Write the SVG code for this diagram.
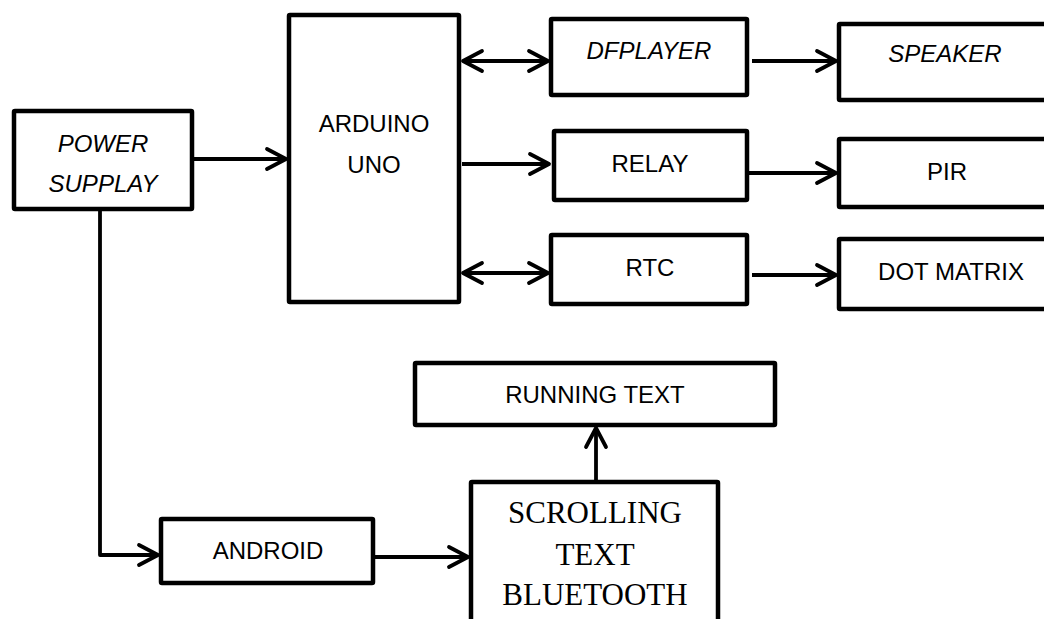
<svg xmlns="http://www.w3.org/2000/svg" width="1044" height="619" viewBox="0 0 1044 619">
  <style>
    .box { fill: #ffffff; stroke: #000000; stroke-width: 4.5; stroke-linejoin: round; }
    .lbl { font-family: "Liberation Sans", Arial, sans-serif; font-size: 24px; fill: #000000; text-anchor: middle; }
    .it { font-style: italic; }
    .serif { font-family: "Liberation Serif", "Times New Roman", serif; font-size: 31px; fill: #000000; text-anchor: middle; }
    .conn { fill: none; stroke: #000000; stroke-width: 3.8; stroke-linejoin: round; }
  </style>
  <defs>
    <marker id="arr" markerUnits="userSpaceOnUse" markerWidth="26" markerHeight="26" viewBox="0 0 26 26" refX="21" refY="13" orient="auto-start-reverse" overflow="visible">
      <path d="M2,3 L21,13 L2,23" fill="none" stroke="#000000" stroke-width="3.8" stroke-linecap="round" stroke-linejoin="round"/>
    </marker>
  </defs>

  <g id="connectors">
    <path class="conn" d="M192,159 H286" marker-end="url(#arr)"/>
    <path class="conn" d="M463,61 H548" marker-start="url(#arr)" marker-end="url(#arr)"/>
    <path class="conn" d="M462,164 H549" marker-end="url(#arr)"/>
    <path class="conn" d="M463,273 H548" marker-start="url(#arr)" marker-end="url(#arr)"/>
    <path class="conn" d="M752,61 H836" marker-end="url(#arr)"/>
    <path class="conn" d="M749,173 H836" marker-end="url(#arr)"/>
    <path class="conn" d="M752,275 H836" marker-end="url(#arr)"/>
    <path class="conn" d="M100,211 V555 H158" marker-end="url(#arr)"/>
    <path class="conn" d="M375,557 H468" marker-end="url(#arr)"/>
    <path class="conn" d="M596,482 V428" marker-end="url(#arr)"/>
  </g>

  <g id="power-supply">
    <rect class="box" x="14" y="111" width="178" height="98" rx="1"/>
    <text class="lbl it" x="103" y="152">POWER</text>
    <text class="lbl it" x="103" y="192">SUPPLAY</text>
  </g>

  <g id="arduino-uno">
    <rect class="box" x="289" y="15" width="170" height="287" rx="1"/>
    <text class="lbl" x="374" y="132">ARDUINO</text>
    <text class="lbl" x="374" y="173">UNO</text>
  </g>

  <g id="dfplayer">
    <rect class="box" x="551" y="19" width="196" height="76" rx="1"/>
    <text class="lbl it" x="649" y="59">DFPLAYER</text>
  </g>

  <g id="relay">
    <rect class="box" x="554" y="131" width="193" height="69" rx="1"/>
    <text class="lbl" x="650" y="172">RELAY</text>
  </g>

  <g id="rtc">
    <rect class="box" x="551" y="235" width="196" height="69" rx="1"/>
    <text class="lbl" x="650" y="276">RTC</text>
  </g>

  <g id="speaker">
    <rect class="box" x="839" y="24" width="220" height="76" rx="1"/>
    <text class="lbl it" x="945" y="62">SPEAKER</text>
  </g>

  <g id="pir">
    <rect class="box" x="839" y="139" width="220" height="68" rx="1"/>
    <text class="lbl" x="947" y="180">PIR</text>
  </g>

  <g id="dot-matrix">
    <rect class="box" x="839" y="239" width="220" height="70" rx="1"/>
    <text class="lbl" x="951" y="280">DOT MATRIX</text>
  </g>

  <g id="running-text">
    <rect class="box" x="415" y="363" width="360" height="62" rx="1"/>
    <text class="lbl" x="595" y="403">RUNNING TEXT</text>
  </g>

  <g id="android">
    <rect class="box" x="161" y="519" width="212" height="64" rx="1"/>
    <text class="lbl" x="268" y="559">ANDROID</text>
  </g>

  <g id="scrolling-text-bluetooth">
    <rect class="box" x="471" y="482" width="247" height="160" rx="1"/>
    <text class="serif" x="595" y="523">SCROLLING</text>
    <text class="serif" x="595" y="565">TEXT</text>
    <text class="serif" x="595" y="605">BLUETOOTH</text>
  </g>
</svg>
